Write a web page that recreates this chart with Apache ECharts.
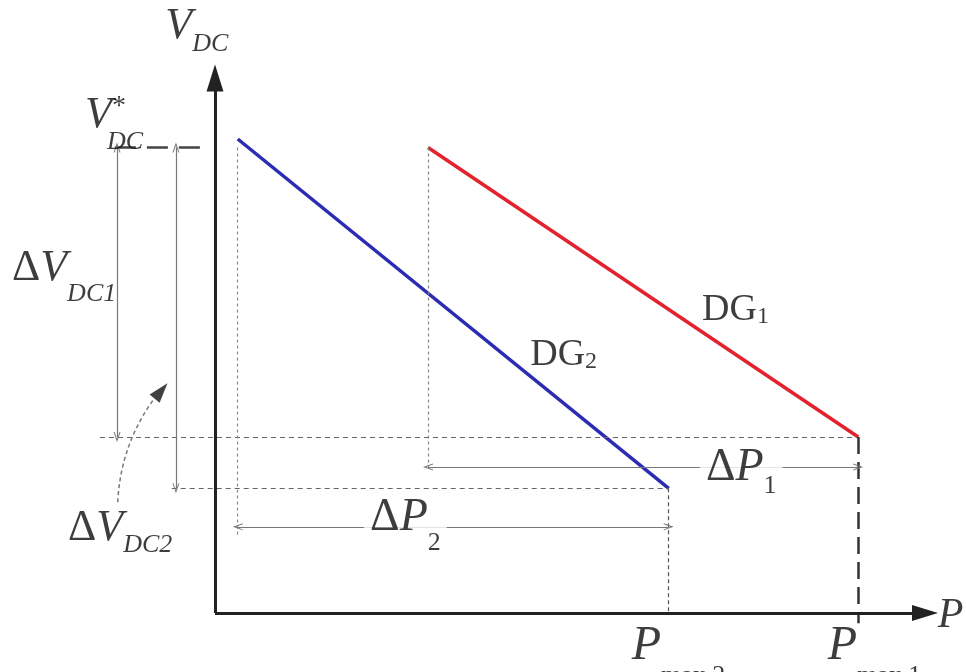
<!DOCTYPE html>
<html><head><meta charset="utf-8">
<script src="https://cdn.jsdelivr.net/npm/echarts@6/dist/echarts.min.js"></script>
<style>html,body{margin:0;padding:0;background:#fff}#c{width:966px;height:672px}</style>
</head><body><div id="c"></div>
<script>
// ---- values (arbitrary units: P along x, V_DC along y) ----
const units  = ['DG1', 'DG2'];
const pStart = [30.0, 3.2];    // P where each droop line starts
const vStart = [87.0, 88.6];   // V_DC at the start of each line
const pMax   = [90.6, 63.9];   // P_max1, P_max2
const vMin   = [32.9, 23.3];   // V_DC reached at P_max
const vStar  = 87.0;           // V*_DC reference
const axisEnd = [100, 100];    // end of P axis, end of V_DC axis

// ---- annotation placement (dimension lines and label anchors, same units) ----
const ann = {
  dv1X: -13.8, dv2X: -5.5, vStarFrom: -14.1, vStarTo: -1.4,
  h1From: -16.2, h2From: -6.1, dp1Y: 27.3, dp2Y: 16.1, dp2Drop: 14.2, pmax1Below: -1.9,
  curveFrom: [-13.7, 20.7], curveTo: [-8.5, 40.2], curveHead: [-7.6, 41.5]
};

const F = '"Liberation Serif", "Times New Roman", serif';
const INK = '#0d0d0d';
// main glyphs sit at the top of the line box; the subscript is pushed down by `off` px
function rich(main, sub, off, subItalic) {
  const L = Math.max(main, main / 2 + sub / 2 + off);
  return {
    d:  {fontFamily: F, fontSize: main, lineHeight: main, verticalAlign: 'top', color: INK},
    v:  {fontFamily: F, fontStyle: 'italic', fontSize: main, lineHeight: main, verticalAlign: 'top', color: INK},
    r:  {fontFamily: F, fontSize: main, lineHeight: main, verticalAlign: 'top', color: INK},
    s:  {fontFamily: F, fontStyle: subItalic ? 'italic' : 'normal', fontSize: sub, lineHeight: L, verticalAlign: 'bottom', color: INK},
    sup:{fontFamily: F, fontSize: 28, lineHeight: 20, verticalAlign: 'top', color: INK}
  };
}
const labels = [
  {at: [-7.0, 113.8], text: '{v|V}{s|DC}', rich: rich(44, 26, 18, true)},
  {at: [-18.3, 97.2], text: '{v|V}{sup|*}', rich: rich(44, 26, 18, true)},
  {at: [-15.2, 90.5], text: '{s|DC}', rich: rich(26, 26, 0, true)},
  {at: [-28.6, 68.6], text: '{d|Δ}{v|V}{s|DC1}', rich: rich(44, 26, 26, true)},
  {at: [-20.7, 20.0], text: '{d|Δ}{v|V}{s|DC2}', rich: rich(44, 26, 17, true)},
  {at: [68.3, 31.4], text: '{d|Δ}{v|P}{s|1}', rich: rich(46, 26, 18, false), bg: true},
  {at: [21.0, 22.1], text: '{d|Δ}{v|P}{s|2}', rich: rich(46, 26, 25, false), bg: true},
  {at: [68.6, 60.2], text: '{r|DG}{s|1}', rich: rich(38, 24, 7, false)},
  {at: [44.4, 51.8], text: '{r|DG}{s|2}', rich: rich(38, 24, 7, false)},
  {at: [58.7, -1.7], text: '{v|P}{s|max 2}', rich: rich(48, 26, 30, false)},
  {at: [86.3, -1.7], text: '{v|P}{s|max 1}', rich: rich(48, 26, 30, false)},
  {at: [101.8, 3.4], text: '{v|P}', rich: rich(42, 26, 0, false)}
];

const chev = 'path://M0,10 L5,0 L10,10 L8.6,10 L5,3.2 L1.4,10 Z';
function seg(a, b, style, s0, s1, size) {
  return [
    {coord: a, symbol: s0 || 'none', symbolSize: size || [7, 10], lineStyle: style},
    {coord: b, symbol: s1 || 'none', symbolSize: size || [7, 10]}
  ];
}
const thinDash = {color: '#666', width: 1.2, type: [5, 4]};
const dotted   = {color: '#8a8a8a', width: 1.2, type: [3, 3]};
const dim      = {color: '#777', width: 1.2, type: 'solid'};
const axisSt   = {color: '#222', width: 3, type: 'solid'};

const guides = [
  seg([ann.vStarFrom, vStar], [ann.vStarTo, vStar], {color: '#444', width: 2.5, type: [21, 11]}),
  seg([ann.h1From, vMin[0]], [pMax[0], vMin[0]], thinDash),
  seg([ann.h2From, vMin[1]], [pMax[1], vMin[1]], thinDash),
  seg([pStart[1], vStar], [pStart[1], ann.dp2Drop], dotted),
  seg([pStart[0], vStart[0]], [pStart[0], ann.dp1Y], dotted),
  seg([pMax[1], vMin[1]], [pMax[1], 0], {color: '#555', width: 1.2, type: [4, 3]}),
  seg([pMax[0], vMin[0]], [pMax[0], ann.pmax1Below], {color: '#333', width: 2.5, type: [17, 8]}),
  seg([ann.dv1X, vStar], [ann.dv1X, vMin[0]], dim, chev, chev),
  seg([ann.dv2X, vStar], [ann.dv2X, vMin[1]], dim, chev, chev),
  seg([pStart[0], ann.dp1Y], [pMax[0], ann.dp1Y], dim, chev, chev),
  seg([pStart[1], ann.dp2Y], [pMax[1], ann.dp2Y], dim, chev, chev),
  seg([0, 0], [axisEnd[0], 0], axisSt, 'none', 'triangle', [16, 26]),
  seg([0, 0], [0, axisEnd[1]], axisSt, 'none', 'triangle', [17, 27])
];

const colors = ['#e2222e', '#2b2bb3'];
const chart = echarts.init(document.getElementById('c'), null, {renderer: 'canvas'});
chart.setOption({
  animation: false,
  backgroundColor: '#fff',
  grid: {left: 2, right: 41, top: 3.1, bottom: 5.5},
  xAxis: {type: 'value', min: -30, max: 100, show: false},
  yAxis: {type: 'value', min: -10, max: 114, show: false},
  series: [
    {
      type: 'line', name: 'guides', data: [[0, 0]], symbol: 'none', silent: true, clip: false, z: 1,
      lineStyle: {width: 0},
      markLine: {silent: true, animation: false, label: {show: false}, emphasis: {disabled: true},
        data: guides}
    },
    {
      type: 'lines', name: 'pointer', coordinateSystem: 'cartesian2d', silent: true, clip: false, z: 1,
      lineStyle: {color: '#777', width: 1.5, type: [4, 3], curveness: 0.15, opacity: 1},
      data: [{coords: [ann.curveFrom, ann.curveTo]}]
    },
    ...units.map((u, i) => ({
      type: 'line', name: u, symbol: 'none', silent: true, clip: false, z: 3,
      data: [[pStart[i], vStart[i]], [pMax[i], vMin[i]]],
      lineStyle: {color: colors[i], width: 3.5}
    })),
    {
      type: 'scatter', name: 'arrowhead', silent: true, clip: false, z: 4,
      data: [ann.curveHead], symbol: 'triangle', symbolSize: [13, 20], symbolRotate: -40,
      itemStyle: {color: '#111'}
    },
    {
      type: 'scatter', name: 'labels', silent: true, clip: false, z: 10, symbolSize: 0,
      data: labels.map(l => ({
        value: l.at,
        label: {show: true, position: [0, 0], align: 'left', verticalAlign: 'top', color: INK,
          formatter: l.text, rich: l.rich,
          backgroundColor: l.bg ? '#fff' : 'transparent', padding: l.bg ? [0, 6, 0, 6] : 0}
      }))
    }
  ]
});
</script></body></html>
